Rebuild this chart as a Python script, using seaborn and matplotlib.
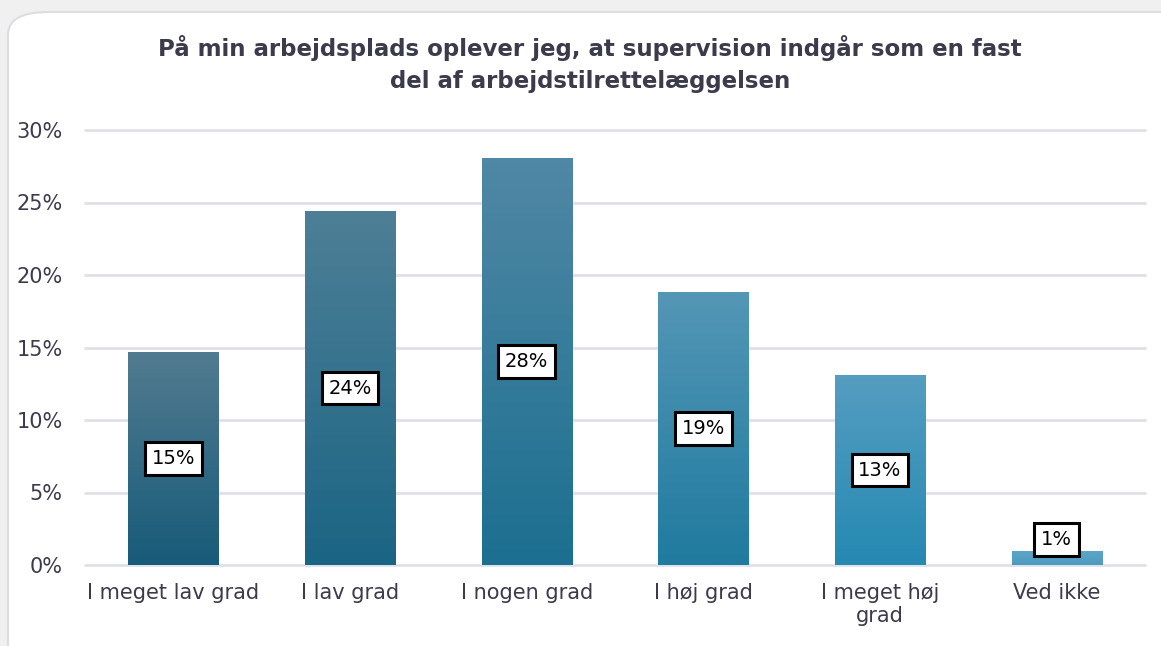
import numpy as np
import pandas as pd
import matplotlib
matplotlib.use("Agg")
import matplotlib.pyplot as plt
import seaborn as sns
from matplotlib.colors import LinearSegmentedColormap
from matplotlib.patches import FancyBboxPatch
from matplotlib.ticker import PercentFormatter

categories = ["I meget lav grad", "I lav grad", "I nogen grad", "I høj grad",
              "I meget høj\ngrad", "Ved ikke"]
values = [14.7, 24.4, 28.1, 18.8, 13.1, 1.0]
labels = ["15%", "24%", "28%", "19%", "13%", "1%"]
top_colors = ["#527b90", "#4e7f96", "#5088a5", "#5496b6", "#559dc1", "#5ea6c8"]
bottom_colors = ["#175b79", "#1a6584", "#1c6f90", "#1f7b9f", "#2589b2", "#4c9cc0"]
title = "På min arbejdsplads oplever jeg, at supervision indgår som en fast\ndel af arbejdstilrettelæggelsen"

df = pd.DataFrame({"cat": categories, "val": values})

sns.set_style("white")
plt.rcParams["font.family"] = ["DejaVu Sans"]
text_col = "#3b3b4b"

fig = plt.figure(figsize=(11.61, 6.46), dpi=100)
fig.patch.set_facecolor("#f0f0f0")
card = FancyBboxPatch((8 / 1161, -0.2), 1.2, (646 - 12) / 646 + 0.2,
                      boxstyle="round,pad=0,rounding_size=0.035",
                      transform=fig.transFigure, facecolor="white",
                      edgecolor="#dcdce2", linewidth=1.5, zorder=-5)
fig.patches.append(card)

ax = fig.add_axes([85 / 1161, 1 - 565 / 646, 1060 / 1161, 435 / 646])
ax.set_facecolor("none")
ax.set_zorder(1)

sns.barplot(data=df, x="cat", y="val", ax=ax, width=0.51, color="#1c6f90",
            saturation=1, zorder=2)

ax.set_xlim(-0.5, 5.5)
ax.set_ylim(0, 30)
ax.set_yticks([0, 5, 10, 15, 20, 25, 30])
ax.yaxis.set_major_formatter(PercentFormatter(decimals=0))
ax.grid(axis="y", color="#e0e0e8", linewidth=2, zorder=0)
for gl in ax.get_ygridlines():
    gl.set_clip_on(False)
ax.set_axisbelow(True)
for s in ax.spines.values():
    s.set_visible(False)
ax.set_xlabel("")
ax.set_ylabel("")
ax.tick_params(axis="both", length=0, labelsize=15, labelcolor=text_col)
ax.tick_params(axis="y", pad=16)
ax.tick_params(axis="x", pad=13)

# gradient fill for each bar
for i, patch in enumerate(ax.patches):
    x0, y0 = patch.get_x(), patch.get_y()
    w, h = patch.get_width(), patch.get_height()
    cmap = LinearSegmentedColormap.from_list("g", [bottom_colors[i], top_colors[i]])
    grad = np.linspace(0, 1, 256).reshape(-1, 1)
    im = ax.imshow(grad, cmap=cmap, origin="lower", aspect="auto",
                   extent=[x0, x0 + w, y0, y0 + h], zorder=2)
    im.set_clip_path(patch)
    patch.set_facecolor("none")
    patch.set_edgecolor("none")

ax.set_xlim(-0.5, 5.5)
ax.set_ylim(0, 30)

for i, (v, lab) in enumerate(zip(values, labels)):
    ax.text(i, max(v / 2, 1.75), lab, ha="center", va="center", fontsize=14,
            color="black", zorder=4,
            bbox=dict(boxstyle="square,pad=0.35", facecolor="white",
                      edgecolor="black", linewidth=2.2))

fig.text(590 / 1161, 1 - 64 / 646, title, ha="center", va="center",
         fontsize=16.5, fontweight="bold", color=text_col, linespacing=1.55)

fig.savefig("out.png", dpi=100, facecolor=fig.get_facecolor())
